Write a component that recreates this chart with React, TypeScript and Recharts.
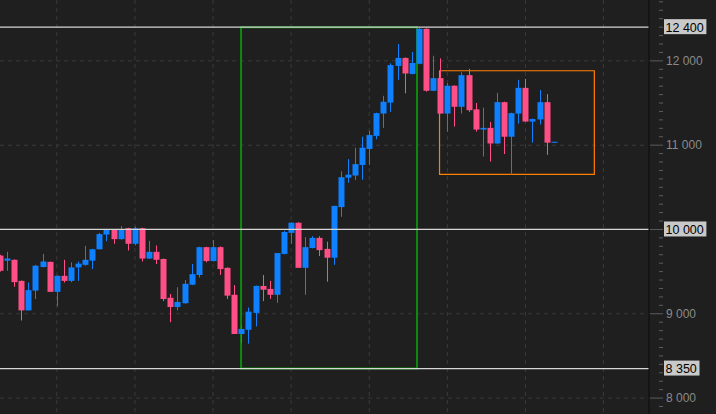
import React from "react"
import {
    ComposedChart,
    Bar,
    XAxis,
    YAxis,
    CartesianGrid,
    ReferenceLine,
    ReferenceArea,
} from "recharts"

// OHLC per candle (index = candle number)
const opens = [
    9690, 9630, 9640, 9390, 9040, 9275, 9555, 9615, 9260, 9450,
    9390, 9550, 9580, 9630, 9765, 9940, 10000, 9885, 10015, 9830,
    10015, 9655, 9735, 9650, 9190, 9080, 9125, 9345, 9460, 9790,
    9625, 9790, 9545, 9225, 8760, 8810, 9010, 9330, 9295, 9225,
    9710, 9960, 10080, 9545, 9780, 9900, 9770, 9665, 10265, 10615,
    10640, 10765, 10955, 11110, 11375, 11505, 11940, 12035, 11845, 11965,
    12380, 11645, 11795, 11375, 11705, 11455, 11830, 11425, 11185, 11205,
    11020, 11510, 11100, 11375, 11680, 11280, 11305, 11510, 11035,
]
const highs = [
    9700, 9735, 9645, 9395, 9370, 9580, 9710, 9620, 9455, 9640,
    9610, 9620, 9805, 9770, 9960, 10005, 10005, 10040, 10020, 10035,
    10020, 9865, 9810, 9655, 9235, 9315, 9400, 9590, 9795, 9795,
    9875, 9800, 9550, 9340, 8860, 9075, 9335, 9460, 9390, 9720,
    9985, 10085, 10085, 9910, 9920, 9920, 9855, 10280, 10690, 10835,
    10970, 11100, 11170, 11385, 11585, 11970, 12200, 12040, 12105, 12390,
    12385, 12060, 12030, 11735, 11710, 11865, 11905, 11500, 11445, 11275,
    11620, 11515, 11385, 11775, 11785, 11315, 11655, 11605, 11040,
]
const lows = [
    9500, 9510, 9320, 8920, 9040, 9175, 9550, 9260, 9090, 9370,
    9375, 9390, 9570, 9530, 9765, 9860, 9830, 9880, 9750, 9810,
    9620, 9650, 9590, 9150, 8900, 9040, 9120, 9340, 9430, 9610,
    9620, 9460, 9175, 8760, 8650, 8645, 8850, 9150, 9175, 9130,
    9705, 9830, 9545, 9225, 9775, 9685, 9380, 9580, 10150, 10555,
    10585, 10590, 10765, 11070, 11205, 11395, 11775, 11615, 11840, 11960,
    11635, 11640, 11375, 11160, 11220, 11375, 11395, 11160, 10865, 10805,
    11015, 10895, 10650, 11255, 11280, 11030, 11245, 10885, 11035,
]
const closes = [
    9510, 9655, 9375, 9040, 9280, 9570, 9620, 9260, 9450, 9390,
    9550, 9595, 9640, 9765, 9945, 9995, 9885, 9995, 9830, 10015,
    9655, 9735, 9640, 9175, 9080, 9140, 9355, 9470, 9790, 9625,
    9790, 9530, 9215, 8760, 8820, 9025, 9330, 9285, 9225, 9720,
    9970, 10080, 9545, 9790, 9900, 9755, 9665, 10280, 10620, 10650,
    10775, 10970, 11120, 11380, 11515, 11950, 12035, 11850, 11975, 12380,
    11645, 11795, 11375, 11705, 11455, 11830, 11415, 11185, 11205, 11020,
    11510, 11100, 11380, 11680, 11280, 11310, 11510, 11030, 11040,
]

const priceLabels = [8000, 9000, 10000, 11000, 12000]
const gridCandles = [8, 19, 30, 41, 52, 63, 74, 85]
const levels = [12400, 10000, 8350]
// boxes drawn on the chart, in candle index / price units
const trendBox = { x1: 33.95, x2: 58.73, y1: 8350, y2: 12400 }
const rangeBox = { x1: 61.9, x2: 83.7, y1: 10654, y2: 11883 }

const minorTicks: number[] = []
for (let v = 7900; v <= 12700; v += 100) minorTicks.push(v)

const data = opens.map((o, i) => ({
    i,
    open: o,
    high: highs[i],
    low: lows[i],
    close: closes[i],
}))

const BG = "#1f1f1f"
const UP = "#0f80ff"
const DOWN = "#ff4f86"
const FONT = "'Liberation Sans', Arial, sans-serif"

const fmt = (v: number) => String(v).replace(/\B(?=(\d{3})+(?!\d))/g, " ")

function Candle(props: any) {
    const { x, y, width, height, payload } = props
    if (x == null || y == null) return null
    const { open, close, high, low } = payload
    const color = close >= open ? UP : DOWN
    const top = Math.min(y, y + height)
    const h = Math.abs(height)
    const ratio = high > low ? h / (high - low) : 0
    const cx = Math.floor(x + width / 2) + 0.5
    const bodyTop = top + (high - Math.max(open, close)) * ratio
    const bodyH = Math.max(1, Math.abs(open - close) * ratio)
    return (
        <g>
            <line x1={cx} x2={cx} y1={top} y2={top + h} stroke={color} strokeWidth={1} />
            <rect x={cx - 3} y={bodyTop} width={6} height={bodyH} fill={color} />
        </g>
    )
}

function PriceTick(props: any) {
    const { x, y, payload } = props
    const v = payload.value
    const major = v % 1000 === 0
    // a level tag sits on top of this label, so it is not repeated
    const showLabel = major && !levels.includes(v)
    return (
        <g>
            <line x1={major ? x + 1 : x + 10} x2={x + 14} y1={y} y2={y} stroke="#5c5c5c" />
            {showLabel && (
                <text x={x + 17} y={y} dy={4} fill="#8a8a8a" fontSize={12} fontFamily={FONT}>
                    {fmt(v)}
                </text>
            )}
        </g>
    )
}

function LevelTag(props: any) {
    const { viewBox, value } = props
    if (!viewBox) return null
    const x = viewBox.x + viewBox.width + 15
    const y = viewBox.y
    const label = fmt(value)
    return (
        <g>
            <rect x={x} y={y - 8} width={label.length * 6.9 + 1} height={15} fill="#c9c9c9" />
            <text x={x + 1.5} y={y} dy={4.5} fill="#000" fontSize={12.5} fontFamily={FONT}>
                {label}
            </text>
        </g>
    )
}

export default function App() {
    return (
        <div style={{ position: "absolute", left: 0, top: 0, width: 716, height: 414, background: BG }}>
            <ComposedChart
                width={716}
                height={414}
                data={data}
                margin={{ top: 0, right: 0, left: 0, bottom: 0 }}
            >
                <CartesianGrid
                    stroke="#3a3a3a"
                    strokeDasharray="4 4"
                    horizontalValues={priceLabels}
                    verticalValues={gridCandles}
                />
                <XAxis type="number" dataKey="i" domain={[0, 91.4]} hide allowDataOverflow />
                <YAxis
                    orientation="right"
                    type="number"
                    width={67}
                    domain={[7811, 12722]}
                    ticks={minorTicks}
                    interval={0}
                    tick={<PriceTick />}
                    tickLine={false}
                    tickSize={0}
                    tickMargin={0}
                    axisLine={{ stroke: "#0c0c0c" }}
                    allowDataOverflow
                />
                <ReferenceArea
                    {...trendBox}
                    fill="none"
                    stroke="#0e8a0e"
                    strokeWidth={2}
                />
                <ReferenceArea
                    {...rangeBox}
                    fill="none"
                    stroke="#ff8000"
                    strokeWidth={1.2}
                />
                <Bar
                    dataKey={(d: any) => [d.low, d.high]}
                    barSize={6}
                    shape={<Candle />}
                    isAnimationActive={false}
                />
                {levels.map((v) => (
                    <ReferenceLine
                        key={v}
                        y={v}
                        stroke="#d6d6d6"
                        strokeWidth={1.2}
                        label={<LevelTag value={v} />}
                    />
                ))}
            </ComposedChart>
        </div>
    )
}
